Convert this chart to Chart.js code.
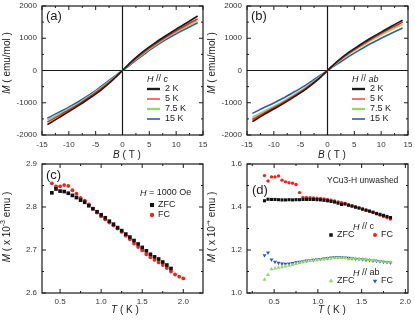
<!DOCTYPE html>
<html>
<head>
<meta charset="utf-8">
<script src="https://cdn.jsdelivr.net/npm/chart.js@4.4.1/dist/chart.umd.min.js"></script>
<style>
  html, body { margin: 0; padding: 0; background: #fff; }
  #wrap { position: relative; width: 415px; height: 321px; }
  canvas { position: absolute; }
</style>
</head>
<body>
<div id="wrap">
  <canvas id="pa" width="207" height="160" style="left:0;top:0"></canvas>
  <canvas id="pb" width="208" height="160" style="left:207px;top:0"></canvas>
  <canvas id="pc" width="207" height="161" style="left:0;top:160px"></canvas>
  <canvas id="pd" width="208" height="161" style="left:207px;top:160px"></canvas>
</div>
<script>
// ---- data ----
// (a),(b) M vs B sweeps
const fieldB = [-14, -12, -10, -8, -6, -4, -2, -1, 0, 1, 2, 4, 6, 8, 10, 12, 14];
const tempLabels = ['2 K', '5 K', '7.5 K', '15 K'];
// H // c
const mc2K  = [-1680, -1475, -1275, -1065, -845, -605, -325, -165, 0, 170, 330, 610, 850, 1070, 1280, 1480, 1690];
const mc5K  = [-1600, -1415, -1225, -1025, -805, -565, -295, -148, 0, 150, 300, 570, 810, 1030, 1230, 1420, 1600];
const mc75K = [-1545, -1365, -1185, -995, -775, -535, -278, -138, 0, 140, 280, 540, 780, 1000, 1190, 1370, 1550];
const mc15K = [-1480, -1305, -1135, -945, -735, -495, -248, -118, 0, 120, 250, 500, 740, 950, 1140, 1310, 1480];
// H // ab
const mab2K  = [-1585, -1385, -1195, -1005, -795, -575, -315, -162, 0, 160, 310, 570, 790, 1000, 1190, 1380, 1560];
const mab5K  = [-1520, -1335, -1155, -965, -765, -545, -293, -147, 0, 145, 290, 540, 760, 960, 1150, 1330, 1500];
const mab75K = [-1450, -1275, -1105, -925, -725, -515, -268, -132, 0, 130, 265, 510, 720, 920, 1100, 1270, 1430];
const mab15K = [-1330, -1165, -1005, -835, -645, -445, -222, -112, 0, 110, 220, 440, 640, 830, 1000, 1160, 1320];

// (c) M vs T, H = 1000 Oe  (x 10^-3 emu)
const tZfcC = [0.40, 0.45, 0.50, 0.55, 0.60, 0.65, 0.70, 0.75, 0.80, 0.85, 0.90, 0.95, 1.00, 1.05, 1.10,
               1.15, 1.20, 1.25, 1.30, 1.35, 1.40, 1.45, 1.50, 1.55, 1.60, 1.65, 1.70, 1.75, 1.80, 1.85];
const mZfcC = [2.833, 2.842, 2.837, 2.836, 2.832, 2.827, 2.822, 2.816, 2.811, 2.803, 2.796, 2.789, 2.782, 2.775, 2.767,
               2.760, 2.752, 2.745, 2.737, 2.730, 2.722, 2.714, 2.706, 2.698, 2.690, 2.684, 2.679, 2.672, 2.665, 2.657];
const tFcC = [0.40, 0.45, 0.50, 0.55, 0.60, 0.65, 0.70, 0.75, 0.80, 0.85, 0.90, 0.95, 1.00, 1.05, 1.10, 1.15, 1.20,
              1.25, 1.30, 1.35, 1.40, 1.45, 1.50, 1.55, 1.60, 1.65, 1.70, 1.75, 1.80, 1.85, 1.90, 1.95, 2.00];
const mFcC = [2.855, 2.848, 2.848, 2.851, 2.849, 2.839, 2.831, 2.821, 2.815, 2.806, 2.796, 2.787, 2.778, 2.771, 2.764, 2.757, 2.750,
              2.742, 2.733, 2.725, 2.715, 2.707, 2.699, 2.690, 2.683, 2.677, 2.671, 2.665, 2.658, 2.650, 2.643, 2.638, 2.634];

// (d) M vs T, YCu3-H unwashed  (x 10^-4 emu)
const tD = [0.39, 0.43, 0.47, 0.51, 0.55, 0.59, 0.63, 0.67, 0.71, 0.75, 0.79, 0.83, 0.87, 0.91, 0.95, 0.99, 1.03, 1.07, 1.11,
            1.15, 1.19, 1.23, 1.27, 1.31, 1.35, 1.39, 1.43, 1.47, 1.51, 1.55, 1.59, 1.63, 1.67, 1.71, 1.75, 1.79, 1.83];
const mZfcD_c = [1.429, 1.436, 1.435, 1.435, 1.434, 1.433, 1.433, 1.434, 1.433, 1.434, 1.434, 1.435, 1.435, 1.435, 1.435, 1.434, 1.433, 1.431, 1.429,
                 1.426, 1.423, 1.418, 1.412, 1.414, 1.408, 1.404, 1.399, 1.395, 1.390, 1.385, 1.381, 1.376, 1.370, 1.366, 1.361, 1.356, 1.351];
const mFcD_c  = [1.546, 1.521, 1.540, 1.540, 1.544, 1.525, 1.517, 1.513, 1.511, 1.505, 1.467, 1.445, 1.444, 1.443, 1.442, 1.441, 1.440, 1.438, 1.435,
                 1.432, 1.428, 1.424, 1.420, 1.416, 1.411, 1.406, 1.401, 1.396, 1.391, 1.386, 1.380, 1.374, 1.368, 1.362, 1.356, 1.350, 1.344];
const mZfcD_ab = [1.062, 1.085, 1.111, 1.115, 1.118, 1.121, 1.124, 1.127, 1.131, 1.136, 1.140, 1.144, 1.147, 1.150, 1.152, 1.154, 1.156, 1.158, 1.160,
                  1.161, 1.163, 1.164, 1.164, 1.163, 1.158, 1.161, 1.160, 1.159, 1.157, 1.156, 1.154, 1.152, 1.150, 1.148, 1.146, 1.144, 1.142];
const mFcD_ab  = [1.175, 1.188, 1.155, 1.145, 1.140, 1.136, 1.135, 1.137, 1.139, 1.142, 1.145, 1.147, 1.150, 1.152, 1.154, 1.156, 1.158, 1.160, 1.162,
                  1.164, 1.166, 1.167, 1.166, 1.165, 1.163, 1.161, 1.159, 1.158, 1.156, 1.154, 1.152, 1.150, 1.149, 1.147, 1.145, 1.143, 1.141];

// tick labels
const ticksB = [-15, -10, -5, 0, 5, 10, 15];
const ticksMB = [-2000, -1000, 0, 1000, 2000];
const ticksT = [0.5, 1.0, 1.5, 2.0];
const ticksMC = [2.6, 2.7, 2.8, 2.9];
const ticksMD = [1.0, 1.2, 1.4, 1.6];

// ---- helpers ----
const FONT = '"Liberation Sans", Arial, Helvetica, sans-serif';
const INK = '#1a1a1a';
const RED = '#e8261f', GREEN = '#93d46f', BLUE = '#2b5cb4';

const pts = (xs, ys) => xs.map((v, i) => ({ x: v, y: ys[i] }));

function drawParts(ctx, parts, x, y, size, opts = {}) {
  ctx.save();
  ctx.translate(x, y);
  if (opts.rotate) ctx.rotate(-Math.PI / 2);
  ctx.textBaseline = 'middle';
  ctx.textAlign = 'left';
  ctx.fillStyle = INK;
  const fontOf = p => (p.it ? 'italic ' : '') + (p.sup ? size * 0.7 : size) + 'px ' + FONT;
  let w = 0;
  parts.forEach(p => { ctx.font = fontOf(p); w += ctx.measureText(p.t).width; });
  let xx = opts.left ? 0 : -w / 2;
  parts.forEach(p => {
    ctx.font = fontOf(p);
    ctx.fillText(p.t, xx, p.sup ? -size * 0.38 : 0);
    xx += ctx.measureText(p.t).width;
  });
  ctx.restore();
}

function marker(ctx, style, x, y, r, color) {
  ctx.save();
  ctx.fillStyle = color;
  ctx.beginPath();
  if (style === 'rect') {
    const s = r * Math.SQRT1_2;
    ctx.rect(x - s, y - s, 2 * s, 2 * s);
  } else if (style === 'triangle') {
    ctx.moveTo(x, y - r);
    ctx.lineTo(x - r * 0.87, y + r * 0.5);
    ctx.lineTo(x + r * 0.87, y + r * 0.5);
  } else if (style === 'triangleDown') {
    ctx.moveTo(x, y + r);
    ctx.lineTo(x - r * 0.87, y - r * 0.5);
    ctx.lineTo(x + r * 0.87, y - r * 0.5);
  } else {
    ctx.arc(x, y, r, 0, Math.PI * 2);
  }
  ctx.closePath();
  ctx.fill();
  ctx.restore();
}

// frame, inward ticks, zero lines, titles and legends
const decor = {
  id: 'decor',
  beforeDatasetsDraw(chart, args, o) {
    if (!o.zero) return;
    const { ctx, chartArea: a, scales: { x, y } } = chart;
    const px = x.getPixelForValue(0), py = y.getPixelForValue(0);
    ctx.save();
    ctx.strokeStyle = INK;
    ctx.lineWidth = 1.2;
    ctx.beginPath();
    ctx.moveTo(px, a.top); ctx.lineTo(px, a.bottom);
    ctx.moveTo(a.left, py); ctx.lineTo(a.right, py);
    ctx.stroke();
    ctx.restore();
  },
  afterDatasetsDraw(chart, args, o) {
    const { ctx, chartArea: a, scales: { x, y } } = chart;
    ctx.save();
    ctx.strokeStyle = INK;
    ctx.lineWidth = 1.2;
    ctx.strokeRect(a.left, a.top, a.right - a.left, a.bottom - a.top);
    ctx.lineWidth = 1;
    ctx.beginPath();
    const each = (sc, minor, major, fn) => {
      for (let k = Math.ceil(sc.min / minor - 1e-6); k * minor <= sc.max + 1e-9; k++) {
        const v = k * minor;
        const r = v / major;
        fn(sc.getPixelForValue(v), Math.abs(r - Math.round(r)) < 1e-6 ? 4 : 2);
      }
    };
    each(x, o.minorX, o.majorX, (p, len) => {
      ctx.moveTo(p, a.bottom); ctx.lineTo(p, a.bottom - len);
      ctx.moveTo(p, a.top); ctx.lineTo(p, a.top + len);
    });
    each(y, o.minorY, o.majorY, (p, len) => {
      ctx.moveTo(a.left, p); ctx.lineTo(a.left + len, p);
      ctx.moveTo(a.right, p); ctx.lineTo(a.right - len, p);
    });
    ctx.stroke();
    ctx.restore();

    (o.texts || []).forEach(t => drawParts(ctx, t.parts, a.left + t.x, a.top + t.y, t.size, t));

    (o.legend || []).forEach(it => {
      const ds = chart.data.datasets[it.ds];
      const lx = a.left + it.x, ly = a.top + it.y;
      let tx;
      if (it.kind === 'line') {
        ctx.save();
        ctx.strokeStyle = ds.borderColor;
        ctx.lineWidth = it.w || 2;
        ctx.beginPath();
        ctx.moveTo(lx, ly); ctx.lineTo(lx + 13, ly);
        ctx.stroke();
        ctx.restore();
        tx = lx + 18;
      } else {
        const st = ds.pointRotation === 180 ? 'triangleDown' : ds.pointStyle;
        marker(ctx, st, lx, ly, ds.pointRadius + 0.3, ds.backgroundColor);
        tx = lx + 6;
      }
      drawParts(ctx, [{ t: ds.label }], tx, ly, 9, { left: true });
    });
  }
};

function axes(o) {
  const tickFont = { family: FONT, size: 8 };
  const fmt = o.fmt;
  return {
    x: {
      type: 'linear', min: o.xmin, max: o.xmax,
      grid: { display: false, drawTicks: false }, border: { display: false },
      ticks: { font: tickFont, color: '#333', padding: o.xpad, autoSkip: false, maxRotation: 0,
               callback: v => fmt.x(v) },
      afterBuildTicks: s => { s.ticks = o.xticks.map(v => ({ value: v })); },
      afterFit: s => { s.height = o.xh; s.paddingLeft = 0; s.paddingRight = 0; }
    },
    y: {
      type: 'linear', min: o.ymin, max: o.ymax,
      grid: { display: false, drawTicks: false }, border: { display: false },
      ticks: { font: tickFont, color: '#333', padding: 5, autoSkip: false,
               callback: v => fmt.y(v) },
      afterBuildTicks: s => { s.ticks = o.yticks.map(v => ({ value: v })); },
      afterFit: s => { s.width = o.yw; s.paddingTop = 0; s.paddingBottom = 0; }
    }
  };
}

function sweepSets(series, colors) {
  return series.map((m, i) => ({
    label: tempLabels[i],
    data: pts(fieldB, m),
    borderColor: colors[i],
    borderWidth: 1.6,
    pointRadius: 0,
    cubicInterpolationMode: 'monotone',
    fill: false
  }));
}

const lineColors = [INK, RED, GREEN, BLUE];
const lineLegendW = [2.4, 1.3, 2.4, 1.6];

function sweepChart(id, series, label, dir, yw, padRight) {
  const legend = lineLegendW.map((w, i) => ({ ds: i, kind: 'line', x: 105, y: 83 + 10 * i, w }));
  return new Chart(document.getElementById(id), {
    type: 'line',
    data: { datasets: sweepSets(series, lineColors) },
    options: {
      responsive: false, animation: false,
      layout: { padding: { top: 6, right: padRight, left: 0, bottom: 0 } },
      scales: axes({ xmin: -15, xmax: 15, ymin: -2000, ymax: 2000, xticks: ticksB, yticks: ticksMB,
                     xh: 25, yw: yw, xpad: 5, fmt: { x: v => String(v), y: v => String(v) } }),
      plugins: {
        legend: { display: false }, tooltip: { enabled: false },
        decor: {
          zero: true, minorX: 2.5, majorX: 5, minorY: 500, majorY: 1000,
          texts: [
            { parts: [{ t: label }], x: 4, y: 10, size: 13, left: true },
            { parts: [{ t: 'M', it: true }, { t: ' ( emu/mol )' }], x: -35, y: 57, size: 10, rotate: true },
            { parts: [{ t: 'B', it: true }, { t: ' ( T )' }], x: 85, y: 149, size: 10 },
            { parts: [{ t: 'H', it: true }, { t: ' // ' }, { t: dir, it: true }], x: 105, y: 73, size: 9, left: true }
          ],
          legend
        }
      }
    },
    plugins: [decor]
  });
}

sweepChart('pa', [mc2K, mc5K, mc75K, mc15K], '(a)', 'c', 42, 4);
sweepChart('pb', [mab2K, mab5K, mab75K, mab15K], '(b)', 'ab', 40, 7);

const fmt1 = { x: v => v.toFixed(1), y: v => v.toFixed(1) };

// (c)
new Chart(document.getElementById('pc'), {
  type: 'scatter',
  data: {
    datasets: [
      { label: 'ZFC', data: pts(tZfcC, mZfcC), pointStyle: 'rect', pointRadius: 2.6, backgroundColor: '#111', borderWidth: 0 },
      { label: 'FC', data: pts(tFcC, mFcC), pointStyle: 'circle', pointRadius: 1.9, backgroundColor: RED, borderWidth: 0 }
    ]
  },
  options: {
    responsive: false, animation: false,
    layout: { padding: { top: 4, right: 4, left: 0, bottom: 0 } },
    scales: axes({ xmin: 0.28, xmax: 2.24, ymin: 2.6, ymax: 2.9, xticks: ticksT, yticks: ticksMC,
                   xh: 28, yw: 42, xpad: 4, fmt: fmt1 }),
    plugins: {
      legend: { display: false }, tooltip: { enabled: false },
      decor: {
        minorX: 0.25, majorX: 0.5, minorY: 0.05, majorY: 0.1,
        texts: [
          { parts: [{ t: '(c)' }], x: 4, y: 11, size: 13, left: true },
          { parts: [{ t: 'M', it: true }, { t: ' ( x 10' }, { t: '-3', sup: true }, { t: ' emu )' }], x: -35, y: 63, size: 10, rotate: true },
          { parts: [{ t: 'T', it: true }, { t: ' ( K )' }], x: 83, y: 146, size: 10 },
          { parts: [{ t: 'H', it: true }, { t: ' = 1000 Oe' }], x: 98, y: 29, size: 9, left: true }
        ],
        legend: [
          { ds: 0, kind: 'point', x: 110, y: 41 },
          { ds: 1, kind: 'point', x: 110, y: 51 }
        ]
      }
    }
  },
  plugins: [decor]
});

// (d)
new Chart(document.getElementById('pd'), {
  type: 'scatter',
  data: {
    datasets: [
      { label: 'ZFC', data: pts(tD, mZfcD_c), pointStyle: 'rect', pointRadius: 2.2, backgroundColor: '#111', borderWidth: 0 },
      { label: 'FC', data: pts(tD, mFcD_c), pointStyle: 'circle', pointRadius: 1.7, backgroundColor: RED, borderWidth: 0 },
      { label: 'ZFC', data: pts(tD, mZfcD_ab), pointStyle: 'triangle', pointRadius: 2.3, backgroundColor: GREEN, borderWidth: 0 },
      { label: 'FC', data: pts(tD, mFcD_ab), pointStyle: 'triangle', pointRotation: 180, pointRadius: 2.3, backgroundColor: BLUE, borderWidth: 0 }
    ]
  },
  options: {
    responsive: false, animation: false,
    layout: { padding: { top: 4, right: 7, left: 0, bottom: 0 } },
    scales: axes({ xmin: 0.19, xmax: 2.03, ymin: 1.0, ymax: 1.6, xticks: ticksT, yticks: ticksMD,
                   xh: 28, yw: 40, xpad: 4, fmt: fmt1 }),
    plugins: {
      legend: { display: false }, tooltip: { enabled: false },
      decor: {
        minorX: 0.25, majorX: 0.5, minorY: 0.1, majorY: 0.2,
        texts: [
          { parts: [{ t: '(d)' }], x: 5, y: 26, size: 13, left: true },
          { parts: [{ t: 'M', it: true }, { t: ' ( x 10' }, { t: '-4', sup: true }, { t: ' emu )' }], x: -35, y: 63, size: 10, rotate: true },
          { parts: [{ t: 'T', it: true }, { t: ' ( K )' }], x: 85, y: 146, size: 10 },
          { parts: [{ t: 'YCu3-H unwashed' }], x: 80, y: 17, size: 8.5, left: true },
          { parts: [{ t: 'H', it: true }, { t: ' // c' }], x: 106, y: 63, size: 9, left: true },
          { parts: [{ t: 'H', it: true }, { t: ' // ab' }], x: 106, y: 109, size: 9, left: true }
        ],
        legend: [
          { ds: 0, kind: 'point', x: 84, y: 71 },
          { ds: 1, kind: 'point', x: 128, y: 71 },
          { ds: 2, kind: 'point', x: 84, y: 117 },
          { ds: 3, kind: 'point', x: 128, y: 117 }
        ]
      }
    }
  },
  plugins: [decor]
});
</script>
</body>
</html>
